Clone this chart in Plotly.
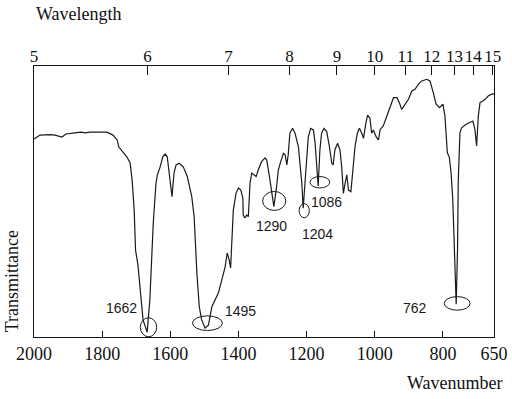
import plotly.graph_objects as go

# Spectrum: wavenumber (cm-1) and transmittance (%, arbitrary 0-100 scale)
wavenumber = [2000, 1982, 1953, 1938, 1918, 1906, 1880, 1862, 1850, 1836, 1806, 1786, 1768, 1756,
              1751, 1742, 1727, 1718, 1712, 1706, 1702, 1695, 1689, 1680, 1668, 1660, 1650, 1642,
              1638, 1630, 1622, 1615, 1609, 1603, 1595, 1589, 1583, 1574, 1562, 1550, 1537, 1530,
              1527, 1522, 1515, 1508, 1498, 1488, 1478, 1469, 1459, 1449, 1439, 1433, 1427, 1423,
              1419, 1415, 1407, 1400, 1393, 1387, 1386, 1381, 1376, 1371, 1366, 1361, 1354, 1348,
              1342, 1332, 1322, 1317, 1309, 1302, 1296, 1288, 1283, 1276, 1268, 1263, 1258, 1254,
              1249, 1241, 1234, 1224, 1214, 1210, 1202, 1195, 1188, 1180, 1175, 1168, 1166, 1161,
              1156, 1149, 1141, 1133, 1126, 1122, 1117, 1109, 1102, 1097, 1092, 1087, 1082, 1077,
              1070, 1065, 1058, 1051, 1045, 1038, 1033, 1026, 1021, 1014, 1009, 1004, 996, 989,
              984, 975, 965, 955, 945, 935, 928, 921, 914, 901, 891, 882, 872, 862, 847, 838, 828,
              820, 810, 800, 794, 787, 781, 776, 771, 767, 763, 761, 757, 755, 750, 745, 732, 720,
              712, 706, 701, 696, 691, 683, 676, 667, 657, 650]
transmittance = [73.1, 74.5, 74.7, 74.5, 73.8, 74.9, 75.3, 75.6, 75.3, 75.6, 75.6, 75.6, 74.5, 72.7,
                 70.1, 68.6, 66.4, 64.2, 57.9, 46.9, 32.1, 26.6, 19.2, 6.3, 1.8, 13.7, 42.1, 56.8,
                 59.8, 62.7, 66.5, 67.5, 66.5, 60.5, 51.8, 60.5, 63.5, 64.1, 62.8, 59.2, 51.8, 44.4,
                 35.8, 23.6, 11.2, 6.3, 3.3, 4.4, 11.2, 13.7, 16.2, 21.0, 25.9, 31.0, 28.4, 25.5,
                 35.8, 46.9, 53.1, 55.0, 54.2, 51.3, 45.0, 43.9, 45.0, 44.4, 56.8, 60.5, 59.8, 59.2,
                 61.6, 64.7, 66.1, 65.3, 59.2, 53.6, 48.1, 55.5, 61.6, 64.7, 67.8, 67.2, 63.5, 67.2,
                 75.2, 77.0, 75.2, 70.2, 56.7, 47.5, 60.5, 73.9, 77.0, 76.4, 71.6, 59.2, 55.7, 69.0,
                 75.2, 77.0, 75.8, 70.2, 64.1, 63.5, 69.0, 71.5, 69.0, 62.8, 53.0, 56.7, 59.8, 54.2,
                 53.6, 60.4, 70.2, 75.2, 77.0, 75.2, 73.3, 78.9, 81.9, 80.7, 75.2, 76.4, 73.9, 72.7,
                 76.6, 77.9, 81.6, 85.2, 88.3, 88.3, 86.5, 84.0, 85.2, 87.7, 90.8, 91.4, 93.2, 94.5,
                 95.1, 94.5, 90.1, 85.9, 84.6, 85.9, 81.6, 68.0, 66.2, 60.6, 50.8, 32.5, 14.0, 12.1,
                 32.5, 56.9, 75.4, 77.2, 78.5, 79.1, 79.7, 76.6, 70.5, 81.6, 86.5, 87.1, 87.7, 88.9,
                 89.6, 89.7]

# Bottom axis ticks (wavenumber)
wn_ticks = [2000, 1800, 1600, 1400, 1200, 1000, 800, 650]
# Top axis ticks (wavelength, micrometres) and where the chart paper prints them (cm-1)
wl_ticks = [5, 6, 7, 8, 9, 10, 11, 12, 13, 14, 15]
wl_tick_wn = [2000, 1667, 1429, 1250, 1111, 1000, 909, 833, 766, 711, 654]

# Marked peaks: label, ellipse centre (wn, T), half-width (wn), half-height (T), label position
peak_labels = ["1662", "1495", "1290", "1204", "1086", "762"]
peak_center_wn = [1664, 1491, 1295, 1207, 1161, 758]
peak_center_t = [3.6, 5.1, 50.2, 46.6, 57.1, 12.4]
peak_rx = [24, 44, 34, 15, 29, 38]
peak_ry = [3.5, 2.7, 3.5, 2.6, 2.1, 2.5]
label_wn = [1743, 1393, 1302, 1168, 1143, 882]
label_t = [10.6, 9.7, 41.1, 38.0, 49.9, 10.6]

serif = "Liberation Serif, Times New Roman, serif"
sans = "Liberation Sans Narrow, Liberation Sans, Arial, sans-serif"

fig = go.Figure()
fig.add_trace(go.Scatter(x=wavenumber, y=transmittance, mode="lines",
                         line=dict(color="#1a1a1a", width=1.2), hoverinfo="skip",
                         showlegend=False))
# invisible trace to anchor the top axis
fig.add_trace(go.Scatter(x=[wn_ticks[0], wn_ticks[-1]], y=[None, None], xaxis="x2",
                         mode="lines", showlegend=False, hoverinfo="skip"))

shapes = []
for cx, cy, rx, ry in zip(peak_center_wn, peak_center_t, peak_rx, peak_ry):
    shapes.append(dict(type="circle", xref="x", yref="y",
                       x0=cx - rx, x1=cx + rx, y0=cy - ry, y1=cy + ry,
                       line=dict(color="#1a1a1a", width=1)))

annotations = []
for txt, lx, ly in zip(peak_labels, label_wn, label_t):
    annotations.append(dict(x=lx, y=ly, xref="x", yref="y", text=txt, showarrow=False,
                            font=dict(family=sans, size=14, color="#1a1a1a")))
annotations.append(dict(x=0, y=1.192, xref="paper", yref="paper", text="Wavelength",
                        showarrow=False, xanchor="left", yanchor="middle",
                        font=dict(family=serif, size=18, color="#111")))
annotations.append(dict(x=1.024, y=-0.17, xref="paper", yref="paper", text="Wavenumber",
                        showarrow=False, xanchor="right", yanchor="middle",
                        font=dict(family=serif, size=18, color="#111")))
annotations.append(dict(x=-0.046, y=0.205, xref="paper", yref="paper", text="Transmittance",
                        showarrow=False, textangle=-90, xanchor="center", yanchor="middle",
                        font=dict(family=serif, size=18, color="#111")))

fig.update_layout(
    width=512, height=399,
    margin=dict(l=34, r=18, t=66, b=62, autoexpand=False),
    paper_bgcolor="white", plot_bgcolor="white",
    shapes=shapes, annotations=annotations,
    xaxis=dict(range=[2000, 650], tickvals=wn_ticks, ticktext=[str(v) for v in wn_ticks],
               ticks="inside", ticklen=6, tickcolor="#111", tickwidth=1, tickangle=0,
               showline=True, linecolor="#111", linewidth=1.3, mirror=True,
               showgrid=False, zeroline=False, automargin=False,
               tickfont=dict(family=serif, size=18, color="#111")),
    xaxis2=dict(range=[2000, 650], overlaying="x", side="top",
                tickvals=wl_tick_wn, ticktext=[str(w) for w in wl_ticks],
                ticks="inside", ticklen=9, tickcolor="#111", tickwidth=1, tickangle=0,
                showline=False, showgrid=False, zeroline=False, automargin=False,
                tickfont=dict(family=serif, size=17, color="#111")),
    yaxis=dict(range=[0, 100], showticklabels=False, ticks="", showgrid=False,
               automargin=False,
               zeroline=False, showline=True, linecolor="#111", linewidth=1.3, mirror=True),
)

fig.write_html("out.html", config={"displayModeBar": False},
               post_script="document.body.style.margin='0';")
